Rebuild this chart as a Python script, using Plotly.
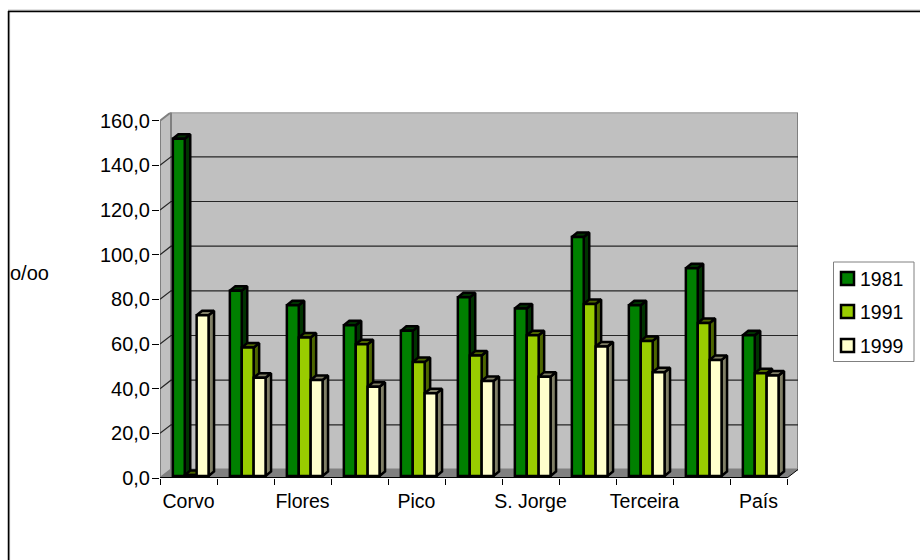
import plotly.graph_objects as go

# Taxa por mil, ilhas dos Açores e total do país
categories = ["Corvo", "", "Flores", "", "Pico", "", "S. Jorge", "", "Terceira", "", "País"]
values_1981 = [151, 83, 76.5, 67.5, 65, 80, 75, 107, 76.5, 93, 63]
values_1991 = [0.4, 57.5, 62, 59, 51, 54, 63, 77, 60.5, 68.5, 46]
values_1999 = [72, 44, 43, 40, 37, 42.5, 44.5, 58, 46.5, 52, 45]
y_ticks = [0, 20, 40, 60, 80, 100, 120, 140, 160]

series = [
    ("1981", values_1981, "#008000", "#003300"),
    ("1991", values_1991, "#99CC00", "#4D6600"),
    ("1999", values_1999, "#FFFFCC", "#807F66"),
]

FONT = "Liberation Sans, Arial, sans-serif"
TEXT_SIZE = 19.5

# Plot-area geometry in pixels; the front plane of the box spans 160-787 by 478-120.7
PX_LEFT, PX_RIGHT, PX_BOTTOM, PX_TOP = 160.0, 798.0, 478.0, 112.5
PX_PER_CAT = 627.0 / 11
PX_PER_UNIT = 357.3 / 160
WIDTH, HEIGHT = 920, 560

# Pseudo-3D offsets, converted to data units
WALL_DX = 11 / PX_PER_CAT
WALL_DY = 8.5 / PX_PER_UNIT
BAR_DX = 5.5 / PX_PER_CAT
BAR_DY = 4.5 / PX_PER_UNIT
BAR_X0 = 2.2 / PX_PER_CAT
BAR_Y0 = 2 / PX_PER_UNIT
BAR_W = 11.9 / PX_PER_CAT
EDGE = 2.5

x_max = (PX_RIGHT - PX_LEFT) / PX_PER_CAT
y_max = (PX_BOTTOM - PX_TOP) / PX_PER_UNIT
n = len(categories)
group_w = BAR_W * 3


def px(x):
    return x / WIDTH


def py(y):
    return 1 - y / HEIGHT


def poly(xs, ys, fill, line="black", width=0):
    return go.Scatter(
        x=xs, y=ys, mode="lines", fill="toself", fillcolor=fill,
        line=dict(color=line, width=width), hoverinfo="skip", showlegend=False,
    )


def segment(xs, ys, color, width):
    return go.Scatter(
        x=xs, y=ys, mode="lines", line=dict(color=color, width=width),
        hoverinfo="skip", showlegend=False,
    )


fig = go.Figure()

# Floor, side wall and back wall
fig.add_trace(poly([0, n, n + WALL_DX, WALL_DX, 0], [0, 0, WALL_DY, WALL_DY, 0], "#808080"))
fig.add_trace(poly([0, WALL_DX, WALL_DX, 0, 0], [0, WALL_DY, 160 + WALL_DY, 160, 0], "#C0C0C0", "#808080", 2))
fig.add_trace(poly([WALL_DX, n + WALL_DX, n + WALL_DX, WALL_DX, WALL_DX],
                   [WALL_DY, WALL_DY, 160 + WALL_DY, 160 + WALL_DY, WALL_DY], "#C0C0C0", "#808080", 2))
fig.add_trace(segment([n, n + WALL_DX], [0, WALL_DY], "black", 1))

# Gridlines run along the back wall and fold down the side wall
for t in y_ticks[1:-1]:
    fig.add_trace(segment([0, WALL_DX, n + WALL_DX], [t, t + WALL_DY, t + WALL_DY], "#262626", 1.2))

# Side and top faces, painted series by series so nearer bars overlap farther ones
for s, (label, vals, front, dark) in enumerate(series):
    for i, v in enumerate(vals):
        start = i + (1 - group_w) / 2 + BAR_X0 + s * BAR_W
        end = start + BAR_W
        top = v + BAR_Y0
        fig.add_trace(poly(
            [end, end + BAR_DX, end + BAR_DX, end, end],
            [BAR_Y0, BAR_Y0 + BAR_DY, top + BAR_DY, top, BAR_Y0], dark, "black", EDGE,
        ))
        fig.add_trace(poly(
            [start, start + BAR_DX, end + BAR_DX, end, start],
            [top, top + BAR_DY, top + BAR_DY, top, top], dark, "black", EDGE,
        ))

# Front faces sit on an overlaid axis pair so they paint above the depth faces
for s, (label, vals, front, dark) in enumerate(series):
    fig.add_trace(go.Bar(
        x=[i + 0.5 for i in range(n)], y=vals, base=[BAR_Y0] * n,
        width=BAR_W, offset=[(-group_w / 2 + BAR_X0 + s * BAR_W)] * n,
        marker=dict(color=front, line=dict(color="black", width=EDGE)),
        name=label, showlegend=False, xaxis="x2", yaxis="y2",
    ))

domain_x = [px(PX_LEFT), px(PX_RIGHT)]
domain_y = [py(PX_BOTTOM), py(PX_TOP)]

shapes = [
    # Front edge of the floor
    dict(type="line", xref="x", yref="y", x0=0, x1=n, y0=0, y1=0,
         line=dict(color="black", width=2)),
    # Chart frame: only the top and left sides fall inside the page
    dict(type="line", xref="paper", yref="paper", x0=px(9.6), x1=px(9.6), y0=0, y1=py(11),
         line=dict(color="#A0A0A0", width=1)),
    dict(type="line", xref="paper", yref="paper", x0=px(8.5), x1=px(8.5), y0=0, y1=py(11),
         line=dict(color="black", width=1.5)),
    dict(type="line", xref="paper", yref="paper", x0=px(8), x1=1, y0=py(10.2), y1=py(10.2),
         line=dict(color="#A0A0A0", width=1)),
    dict(type="line", xref="paper", yref="paper", x0=px(8), x1=1, y0=py(11.5), y1=py(11.5),
         line=dict(color="black", width=1.5)),
    # Key box
    dict(type="rect", xref="paper", yref="paper", x0=px(833.5), x1=px(914), y0=py(361.5), y1=py(262),
         line=dict(color="#808080", width=1), fillcolor="white"),
]

annotations = [
    dict(text="o/oo", xref="paper", yref="paper", x=px(8), y=py(273.5),
         xanchor="left", yanchor="middle", showarrow=False, font=dict(size=20)),
]

# Key entries: swatch and year label per series
key_rows = [278.5, 311.5, 345.5]
for (label, vals, front, dark), row in zip(series, key_rows):
    shapes.append(dict(
        type="rect", xref="paper", yref="paper",
        x0=px(841), x1=px(854), y0=py(row + 6.5), y1=py(row - 6.5),
        line=dict(color="black", width=2.5), fillcolor=front,
    ))
    annotations.append(dict(
        text=label, xref="paper", yref="paper", x=px(858), y=py(row),
        xanchor="left", yanchor="middle", showarrow=False, font=dict(size=TEXT_SIZE),
    ))

fig.update_layout(
    width=WIDTH, height=HEIGHT, autosize=False,
    margin=dict(l=0, r=0, t=0, b=0, pad=0, autoexpand=False),
    paper_bgcolor="white", plot_bgcolor="white",
    font=dict(family=FONT, color="black"),
    separators=", ",
    barmode="overlay",
    showlegend=False,
    xaxis=dict(
        domain=domain_x, range=[0, x_max], showgrid=False, zeroline=False,
        showline=False, tickmode="array",
        tickvals=[i + 0.5 for i in range(n)], ticktext=categories,
        tickfont=dict(size=TEXT_SIZE), ticks="", ticklen=0, ticklabelstandoff=9,
        minor=dict(tickmode="array", tickvals=list(range(n + 1)), ticks="outside",
                   ticklen=6, tickcolor="black", tickwidth=1),
    ),
    yaxis=dict(
        domain=domain_y, range=[0, y_max], showgrid=False, zeroline=False,
        showline=False, tickmode="array", tickvals=y_ticks, tickformat=".1f",
        tickfont=dict(size=20), ticks="outside", ticklen=7, tickcolor="black", tickwidth=1,
        ticklabelstandoff=-2,
    ),
    xaxis2=dict(domain=domain_x, range=[0, x_max], overlaying="x", visible=False, anchor="y2"),
    yaxis2=dict(domain=domain_y, range=[0, y_max], overlaying="y", visible=False, anchor="x2"),
    shapes=shapes,
    annotations=annotations,
)

fig.write_html("out.html")
